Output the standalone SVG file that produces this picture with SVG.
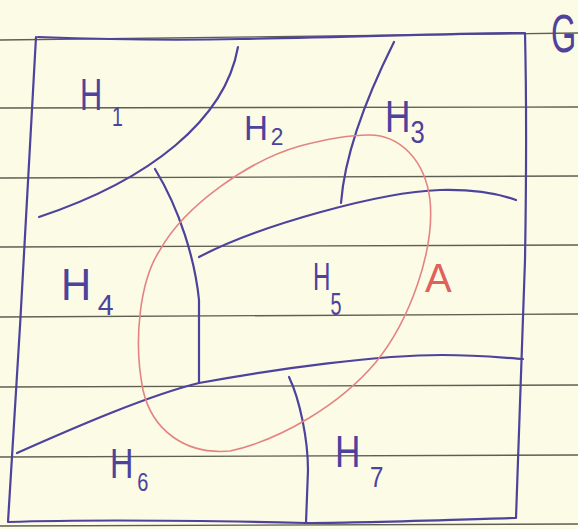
<svg xmlns="http://www.w3.org/2000/svg" width="578" height="529" viewBox="0 0 578 529">
<style>
.paper{fill:#fcfbe6}
.rule{stroke:#5e5e52;stroke-width:1.4;fill:none}
.pen{stroke:#4d429c;stroke-width:2.2;fill:none;stroke-linecap:round;stroke-linejoin:round}
.red{stroke:#e38482;stroke-width:1.6;fill:none}
.lbl{font-family:"Liberation Sans",Arial,sans-serif;fill:#4d429c}
.lblr{font-family:"Liberation Sans",Arial,sans-serif;fill:#e0605c}
</style>
<rect class="paper" x="0" y="0" width="578" height="529"/>
<g id="rules">
<path class="rule" d="M0,40 L578,33"/>
<path class="rule" d="M0,108 L578,107"/>
<path class="rule" d="M0,178 L578,176"/>
<path class="rule" d="M0,247 L578,245"/>
<path class="rule" d="M0,317 L578,314"/>
<path class="rule" d="M0,387 L578,385"/>
<path class="rule" d="M0,457 L578,455"/>
<path class="rule" d="M0,526 L578,524"/>
</g>
<g id="G">
<path class="pen" d="M38,37 C120,40 200,40 240,39 C360,37 460,33 525,33 C527,120 526,200 525,260 C522,350 518,440 516,518 C440,520 360,523 306,523 C220,521 100,519 8,522 C18,360 28,200 36,37"/>
<text class="lbl" transform="translate(551,52) scale(0.6,1)" font-size="54">G</text>
</g>
<g id="connectors">
<path class="pen" d="M238,47 C225,120 150,180 39,217"/>
<path class="pen" d="M394,42 C370,90 345,150 341,203"/>
<path class="pen" d="M199,257 C260,225 380,192 440,190 C480,189 505,196 516,200"/>
<path class="pen" d="M155,169 C180,210 195,260 199,300 L199,383"/>
<path class="pen" d="M17,453 C80,425 150,395 199,383 C280,368 380,355 442,355 C480,355 505,358 523,359"/>
<path class="pen" d="M289,377 C300,400 308,440 308,470 L306,523"/>
</g>
<g id="A">
<path class="red" d="M369,135 C400,135 425,160 430,200 C435,250 410,320 376,362 C340,405 280,440 230,451 C185,455 152,430 143,390 C133,340 140,280 160,250 C185,205 250,160 300,146 C330,138 350,135 369,135 Z"/>
<text class="lblr" x="425" y="292" font-size="40">A</text>
</g>
<g id="H1"><text class="lbl" transform="translate(80,110) scale(0.7,1)" font-size="44">H<tspan dx="14" dy="16" font-size="28">1</tspan></text></g>
<g id="H2"><text class="lbl" transform="translate(244,140) scale(0.95,1)" font-size="35">H<tspan dx="3" dy="5" font-size="24">2</tspan></text></g>
<g id="H3"><text class="lbl" transform="translate(385,132) scale(0.8,1)" font-size="44">H<tspan dx="0" dy="11" font-size="32">3</tspan></text></g>
<g id="H4"><text class="lbl" transform="translate(61,300) scale(0.95,1)" font-size="44">H<tspan dx="7" dy="15" font-size="30">4</tspan></text></g>
<g id="H5"><text class="lbl" transform="translate(313,290) scale(0.62,1)" font-size="39">H<tspan dx="0" dy="25" font-size="32">5</tspan></text></g>
<g id="H6"><text class="lbl" transform="translate(110,478) scale(0.77,1)" font-size="42">H<tspan dx="5" dy="13" font-size="26">6</tspan></text></g>
<g id="H7"><text class="lbl" transform="translate(335,467) scale(0.8,1)" font-size="44">H<tspan dx="12" dy="20" font-size="30">7</tspan></text></g>
</svg>
